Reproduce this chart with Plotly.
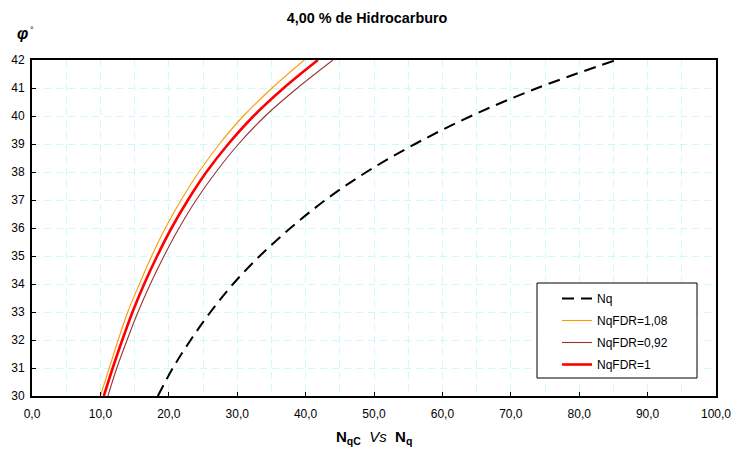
import plotly.graph_objects as go

phi = [30, 31, 32, 33, 34, 35, 36, 37, 38, 39, 40, 41, 42]
nq = [18.4, 20.6, 23.2, 26.1, 29.4, 33.3, 37.8, 42.9, 48.9, 56.0, 64.2, 73.9, 85.4]
nq_fdr_108 = [10.0, 11.3, 12.6, 14.0, 15.7, 17.5, 19.5, 21.8, 24.4, 27.4, 30.9, 35.1, 39.8]
nq_fdr_092 = [11.1, 12.4, 13.9, 15.5, 17.3, 19.3, 21.5, 24.0, 26.9, 30.2, 34.1, 38.8, 44.0]
nq_fdr_1 = [10.5, 11.8, 13.2, 14.7, 16.4, 18.3, 20.4, 22.8, 25.5, 28.7, 32.4, 36.8, 41.8]

title_text = "4,00 % de Hidrocarburo"
names = ["Nq", "NqFDR=1,08", "NqFDR=0,92", "NqFDR=1"]

FONT = "Liberation Sans, Arial, sans-serif"
GRID = "#c8fcfc"

# plot area in pixels
L, R, T, B = 32, 716, 60, 396
W, H = R - L, B - T


def px(xp):
    return (xp - L) / W


def py(yp):
    return (B - yp) / H


fig = go.Figure()
fig.add_trace(go.Scatter(x=nq, y=phi, mode="lines", name=names[0], legendgroup="a",
                         line=dict(color="black", width=2, dash="12px,7px", shape="spline")))
fig.add_trace(go.Scatter(x=nq_fdr_108, y=phi, mode="lines", name=names[1], legendgroup="b",
                         line=dict(color="#FF9900", width=1.1, shape="spline")))
fig.add_trace(go.Scatter(x=nq_fdr_092, y=phi, mode="lines", name=names[2], legendgroup="c",
                         line=dict(color="#993333", width=1.1, shape="spline")))
fig.add_trace(go.Scatter(x=nq_fdr_1, y=phi, mode="lines", name=names[3], legendgroup="d",
                         line=dict(color="#FF0000", width=2.6, shape="spline")))

fig.update_layout(
    width=734, height=454,
    margin=dict(l=L, r=734 - R, t=T, b=454 - B, autoexpand=False),
    paper_bgcolor="white", plot_bgcolor="white",
    separators=",.",
    font=dict(family=FONT, size=12, color="black"),
    title=dict(text="<b>" + title_text + "</b>", x=0.5, xref="container", xanchor="center",
               y=1 - 18 / 454, yref="container", yanchor="middle",
               font=dict(family=FONT, size=14.4, color="black")),
    showlegend=True,
    legend=dict(x=px(557), y=py(284), xanchor="left", yanchor="top",
                bgcolor="rgba(0,0,0,0)", borderwidth=0,
                font=dict(family=FONT, size=12, color="black"),
                tracegroupgap=3),
    shapes=[dict(type="rect", xref="paper", yref="paper",
                 x0=px(537), x1=px(697), y0=py(378), y1=py(283),
                 fillcolor="white", line=dict(color="black", width=1), layer="above")],
    xaxis=dict(range=[0, 100], dtick=10, tick0=0, tickformat=".1f", automargin=False,
               showline=True, linecolor="black", linewidth=2, mirror=True,
               ticks="inside", ticklen=4, tickcolor="black", ticklabelstandoff=6,
               tickfont=dict(family=FONT, size=12, color="black"),
               showgrid=True, gridcolor=GRID, griddash="7px,5px", gridwidth=1,
               minor=dict(dtick=5, showgrid=True, gridcolor=GRID, griddash="7px,5px"),
               zeroline=False, fixedrange=True),
    yaxis=dict(range=[30, 42], dtick=1, tick0=30, automargin=False,
               showline=True, linecolor="black", linewidth=2, mirror=True,
               ticks="inside", ticklen=4, tickcolor="black", ticklabelstandoff=3,
               tickfont=dict(family=FONT, size=12, color="black"),
               showgrid=True, gridcolor=GRID, griddash="7px,5px", gridwidth=1,
               zeroline=False, fixedrange=True),
    annotations=[
        dict(text="<b><i>φ</i></b>", xref="paper", yref="paper",
             x=px(22), y=py(33), xanchor="center", yanchor="middle",
             showarrow=False, font=dict(family=FONT, size=16, color="black")),
        dict(text="°", xref="paper", yref="paper",
             x=px(32), y=py(30), xanchor="center", yanchor="middle",
             showarrow=False, font=dict(family=FONT, size=9, color="black")),
        dict(text="<b>N<sub>qC</sub></b>  <i>Vs</i>  <b>N<sub>q</sub></b>", xref="paper", yref="paper",
             x=px(374), y=py(437), xanchor="center", yanchor="middle",
             showarrow=False, font=dict(family=FONT, size=15, color="black")),
    ],
)

fig.write_html("out.html", config={"displayModeBar": False},
               post_script="document.body.style.margin='0px';")
